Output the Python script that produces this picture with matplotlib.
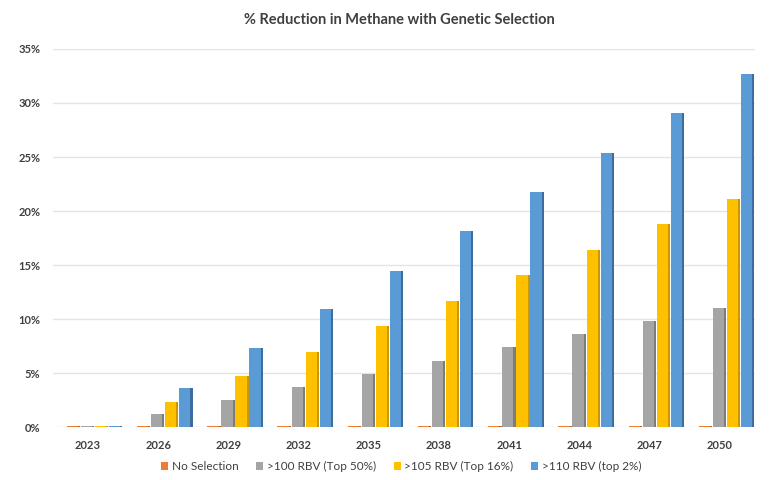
import numpy as np
import matplotlib.pyplot as plt
from matplotlib.ticker import FuncFormatter

plt.rcParams['font.family'] = ['Lato', 'DejaVu Sans']

years = ["2023", "2026", "2029", "2032", "2035", "2038", "2041", "2044", "2047", "2050"]
no_sel = [0.15, 0.15, 0.15, 0.15, 0.15, 0.15, 0.15, 0.15, 0.15, 0.15]
rbv100 = [0.15, 1.2, 2.5, 3.7, 4.9, 6.1, 7.4, 8.6, 9.8, 11.0]
rbv105 = [0.15, 2.35, 4.7, 7.0, 9.4, 11.7, 14.1, 16.4, 18.8, 21.1]
rbv110 = [0.15, 3.6, 7.3, 10.9, 14.5, 18.2, 21.8, 25.4, 29.1, 32.7]

labels = ["No Selection", ">100 RBV (Top 50%)", ">105 RBV (Top 16%)", ">110 RBV (top 2%)"]
colors = ["#ED7D31", "#A5A5A5", "#FFC000", "#5B9BD5"]
sides = ["#B85E22", "#7C7C7C", "#C99700", "#3B6E9E"]

fig = plt.figure(figsize=(7.76, 4.8), dpi=100)
ax = fig.add_axes([0.068, 0.11, 0.905, 0.788])

x = np.arange(len(years))
w = 0.16
series = [no_sel, rbv100, rbv105, rbv110]
for i, vals in enumerate(series):
    pos = x + (i - 1.5) * 0.2 + 0.08
    ax.bar(pos, vals, width=w, color=colors[i], label=labels[i], zorder=3)
    ax.bar(pos + w / 2 + 0.015, vals, width=0.03, color=sides[i], zorder=3)

ax.set_ylim(0, 35)
ax.set_xlim(-0.5, 9.5)
ax.set_yticks(np.arange(0, 36, 5))
ax.yaxis.set_major_formatter(FuncFormatter(lambda v, p: f"{int(v)}%"))
ax.set_xticks(x)
ax.set_xticklabels(years)
ax.grid(axis="y", color="#E4E4E4", linewidth=1, zorder=0)
for s in ax.spines.values():
    s.set_visible(False)
ax.tick_params(length=0, labelsize=8, colors="#404040")
ax.xaxis.set_tick_params(pad=9)
ax.yaxis.set_tick_params(pad=9)
for t in ax.get_xticklabels() + ax.get_yticklabels():
    t.set_fontweight("bold")

fig.suptitle("% Reduction in Methane with Genetic Selection", x=0.515, y=0.972,
             fontsize=10.5, fontweight="bold", color="#404040")

handles, labs = ax.get_legend_handles_labels()
fig.legend(handles, labs, loc="center", bbox_to_anchor=(0.517, 0.028), ncol=4,
           frameon=False, fontsize=8.5, handlelength=0.6, handleheight=0.6,
           handletextpad=0.3, columnspacing=1.5, labelcolor="#404040")

fig.savefig("out.png", dpi=100, facecolor="white")
